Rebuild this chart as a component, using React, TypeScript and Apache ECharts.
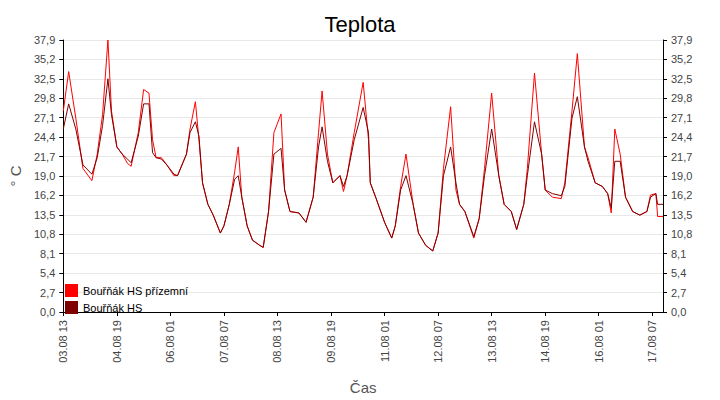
import React, { useEffect, useRef } from 'react';
import * as echarts from 'echarts';

// hours since 03.08 13:00
const hours = [0, 3, 7, 11, 16, 19, 22, 25, 27, 30, 33, 36, 38, 42, 45, 48, 50, 52, 55, 58, 62, 64, 69, 71, 74, 76, 78, 81, 84, 88, 90, 93, 96, 98, 100, 103, 106, 110, 112, 115, 118, 122, 124, 127, 132, 136, 140, 143, 145, 148, 151, 155, 157, 159, 163, 168, 171, 172, 175, 180, 184, 186, 189, 192, 196, 199, 203, 207, 210, 213, 217, 220, 222, 225, 230, 233, 236, 240, 244, 247, 251, 254, 258, 260, 264, 268, 270, 274, 279, 281, 285, 288, 292, 294, 298, 302, 305, 307, 309, 312, 315, 319, 323, 327, 329, 332, 333, 336];
const prizemni = [28, 33.5, 27, 20, 18.3, 22, 27.5, 37.9, 28, 23, 22, 20.7, 20.3, 25, 31, 30.5, 24, 21.5, 21.5, 20.5, 19, 19, 22, 25.5, 29.3, 24, 18, 15, 13.5, 11, 12, 15, 19.5, 23, 16, 12, 10, 9.3, 9, 14, 25, 27.6, 17, 14, 13.8, 12.5, 16, 25, 30.8, 22, 18, 19, 16.8, 19, 25, 32, 24, 18, 16, 12.5, 10.3, 12, 17.5, 22, 15, 11, 9.3, 8.5, 11, 20, 28.6, 17, 15, 14, 10.3, 13, 20, 30.5, 19, 15, 14, 11.5, 15, 20, 33.3, 22, 17, 16, 15.8, 18, 28, 36, 23, 21.5, 18, 17.5, 16.5, 13.8, 25.5, 22, 16, 14, 13.5, 14, 16.3, 16.5, 13.3, 13.3];
const hs = [25.5, 29, 25.5, 20.5, 19.2, 21.5, 26, 32.5, 27.5, 23, 22, 21.3, 20.8, 24.5, 29, 29, 22.2, 21.5, 21.3, 20.5, 19.2, 19, 22, 25, 26.5, 24.5, 18, 15, 13.5, 11, 12, 15, 18.5, 19, 16, 12, 10, 9.3, 9, 14, 22, 22.8, 17, 14, 13.8, 12.5, 16, 23, 25.8, 21, 18, 19, 17.5, 19, 24, 28.5, 25, 18, 16, 12.5, 10.3, 12, 17, 19, 15, 11, 9.3, 8.5, 11, 19, 23, 18, 15, 14, 10.5, 13, 19, 25.5, 19, 15, 14, 11.5, 15, 19, 26.5, 22, 17, 16.5, 16.2, 17.5, 27, 30, 23, 21, 18, 17.5, 16.5, 14.5, 21, 21, 16, 14, 13.5, 14, 16, 16.5, 15, 15];

const start = Date.UTC(2024, 7, 3, 13);
const pad = (n: number) => String(n).padStart(2, '0');
const timeLabel = (h: number) => {
  const d = new Date(start + h * 3600000);
  return `${pad(d.getUTCDate())}.${pad(d.getUTCMonth() + 1)} ${pad(d.getUTCHours())}`;
};
const yLabel = (v: number) => (Math.round(v * 10 + 1e-6) / 10).toFixed(1).replace('.', ',');

const font = 'Liberation Sans, Arial, sans-serif';

const yAxisBase = {
  type: 'value' as const,
  min: 0,
  max: 37.9,
  interval: 37.9 / 14,
  axisLine: { show: true, lineStyle: { color: '#000' } },
  axisTick: { show: true, length: 4, lineStyle: { color: '#000' } },
  axisLabel: { color: '#444', fontSize: 11, fontFamily: font, formatter: yLabel },
};

const App: React.FC = () => {
  const ref = useRef<HTMLDivElement>(null);

  useEffect(() => {
    if (!ref.current) return;
    document.body.style.margin = '0';
    const chart = echarts.init(ref.current, undefined, { renderer: 'svg' });
    chart.setOption({
      animation: false,
      backgroundColor: '#fff',
      title: {
        text: 'Teplota',
        left: 'center',
        top: 8,
        textStyle: { fontSize: 22, fontWeight: 'normal', color: '#000', fontFamily: font },
      },
      legend: {
        orient: 'vertical',
        left: 60,
        top: 279,
        itemWidth: 13,
        itemHeight: 13,
        itemGap: 4,
        icon: 'rect',
        textStyle: { fontSize: 11, color: '#000', fontFamily: font },
      },
      grid: { left: 55, right: 57, top: 40, bottom: 85 },
      xAxis: {
        type: 'value',
        min: 0,
        max: 336,
        interval: 30,
        name: 'Čas',
        nameLocation: 'middle',
        nameGap: 68,
        nameTextStyle: { fontSize: 15, color: '#555', fontFamily: font },
        axisLine: { lineStyle: { color: '#000' } },
        axisTick: { show: true, length: 4, lineStyle: { color: '#000' } },
        splitLine: { show: false },
        axisLabel: {
          rotate: 90,
          color: '#444',
          fontSize: 11,
          fontFamily: font,
          showMaxLabel: false,
          formatter: (v: number) => timeLabel(v),
        },
      },
      yAxis: [
        {
          ...yAxisBase,
          name: '° C',
          nameLocation: 'middle',
          nameGap: 36,
          nameTextStyle: { fontSize: 15, color: '#555', fontFamily: font },
          splitLine: { show: true, lineStyle: { color: '#e8e8e8' } },
        },
        { ...yAxisBase, position: 'right', splitLine: { show: false } },
      ],
      series: [
        {
          name: 'Bouřňák HS přízemní',
          type: 'line',
          data: hours.map((h, i) => [h, prizemni[i]]),
          showSymbol: false,
          itemStyle: { color: '#ff0000' },
          lineStyle: { width: 1, color: '#ff0000' },
        },
        {
          name: 'Bouřňák HS',
          type: 'line',
          data: hours.map((h, i) => [h, hs[i]]),
          showSymbol: false,
          itemStyle: { color: '#800000' },
          lineStyle: { width: 1, color: '#800000' },
        },
      ],
    });
    return () => chart.dispose();
  }, []);

  return <div ref={ref} style={{ width: 720, height: 400 }} />;
};

export default App;
